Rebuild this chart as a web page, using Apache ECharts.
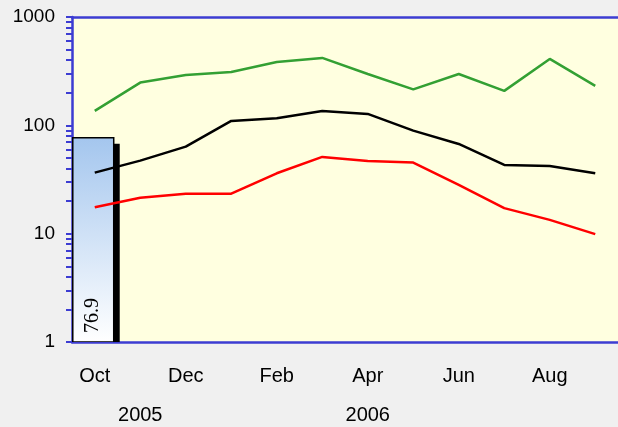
<!DOCTYPE html>
<html>
<head>
<meta charset="utf-8">
<script src="https://cdn.jsdelivr.net/npm/echarts@6/dist/echarts.min.js"></script>
<style>
html, body { margin: 0; padding: 0; background: #f0f0f0; }
#main { width: 618px; height: 427px; }
</style>
</head>
<body>
<div id="main"></div>
<script>
// months Oct 2005 .. Sep 2006
var months = ['Oct', 'Nov', 'Dec', 'Jan', 'Feb', 'Mar', 'Apr', 'May', 'Jun', 'Jul', 'Aug', 'Sep'];
var years = ['', '2005', '', '', '', '', '2006', '', '', '', '', ''];
var upper = [136, 248, 292, 311, 385, 419, 298, 215, 298, 208, 410, 231];
var middle = [36.6, 47.2, 63.6, 109.8, 116.4, 135.8, 127.4, 89.3, 67.3, 43.1, 42.2, 36.1];
var lower = [17.5, 21.5, 23.3, 23.4, 36.1, 51.1, 46.9, 45.3, 28.2, 17.2, 13.4, 9.9];
var barData = [[0, 76.9]];
var yLabels = [1, 10, 100, 1000];
var yMinor = [1, 2, 3, 4, 5, 6, 7, 8, 9, 10, 20, 30, 40, 50, 60, 70, 80, 90,
  100, 200, 300, 400, 500, 600, 700, 800, 900, 1000];

var axisBlue = '#3c3cd2';
var font = 'Liberation Sans, Arial, sans-serif';

var myChart = echarts.init(document.getElementById('main'));

var option = {
  backgroundColor: '#f0f0f0',
  animation: false,
  grid: {
    left: 72,
    top: 17,
    right: -3,
    bottom: 85,
    show: true,
    backgroundColor: '#ffffe0',
    borderWidth: 0
  },
  xAxis: [{
    type: 'category',
    data: months,
    axisLine: { lineStyle: { color: axisBlue, width: 2.5 } },
    axisTick: { show: false },
    axisLabel: {
      interval: 1,
      margin: 24,
      color: '#000',
      fontSize: 20,
      fontFamily: font
    }
  }, {
    type: 'category',
    data: years,
    position: 'bottom',
    offset: 39,
    axisLine: { show: false },
    axisTick: { show: false },
    axisLabel: {
      interval: 0,
      margin: 24,
      color: '#000',
      fontSize: 20,
      fontFamily: font
    }
  }, {
    // top frame line only
    type: 'category',
    data: months,
    position: 'top',
    axisLine: { lineStyle: { color: axisBlue, width: 2.5 } },
    axisTick: { show: false },
    axisLabel: { show: false }
  }],
  yAxis: {
    type: 'log',
    logBase: 10,
    min: 1,
    max: 1000,
    axisLine: { show: true, lineStyle: { color: axisBlue, width: 2.5 } },
    axisTick: {
      show: true,
      length: 6,
      customValues: yMinor,
      lineStyle: { color: axisBlue, width: 2 }
    },
    axisLabel: {
      customValues: yLabels,
      margin: 17,
      color: '#000',
      fontSize: 19,
      fontFamily: font,
      formatter: function (v) { return String(v); }
    },
    splitLine: { show: false }
  },
  series: [{
    type: 'custom',
    clip: true,
    z: 1,
    data: barData,
    encode: { x: 0, y: 1 },
    renderItem: function (params, api) {
      var top = api.coord([api.value(0), api.value(1)]);
      var base = api.coord([api.value(0), 1]);
      var w = api.size([1, 1])[0] * 0.9;
      var box = { x: top[0] - w / 2 - 1.5, y: top[1], width: w, height: base[1] - top[1] };
      return {
        type: 'group',
        children: [{
          // filled box, casting the black drop shadow
          type: 'rect',
          shape: box,
          style: {
            fill: new echarts.graphic.LinearGradient(0, 0, 0, 1, [
              { offset: 0, color: '#a4c6ee' },
              { offset: 1, color: '#ffffff' }
            ]),
            shadowColor: '#000',
            shadowBlur: 0,
            shadowOffsetX: 6,
            shadowOffsetY: 6
          }
        }, {
          // outline without shadow
          type: 'rect',
          shape: box,
          style: { fill: 'none', stroke: '#000', lineWidth: 1.5 }
        }, {
          type: 'text',
          x: top[0] - 2,
          y: base[1] - 9,
          rotation: Math.PI / 2,
          style: {
            text: String(api.value(1)),
            font: '20px "Liberation Serif", serif',
            fill: '#000',
            align: 'left',
            verticalAlign: 'middle'
          }
        }]
      };
    }
  }, {
    type: 'line',
    z: 3,
    data: upper,
    symbol: 'none',
    lineStyle: { color: '#33a033', width: 2.5 }
  }, {
    type: 'line',
    z: 3,
    data: middle,
    symbol: 'none',
    lineStyle: { color: '#000', width: 2.5 }
  }, {
    type: 'line',
    z: 3,
    data: lower,
    symbol: 'none',
    lineStyle: { color: '#ff0000', width: 2.5 }
  }]
};

myChart.setOption(option);
</script>
</body>
</html>
